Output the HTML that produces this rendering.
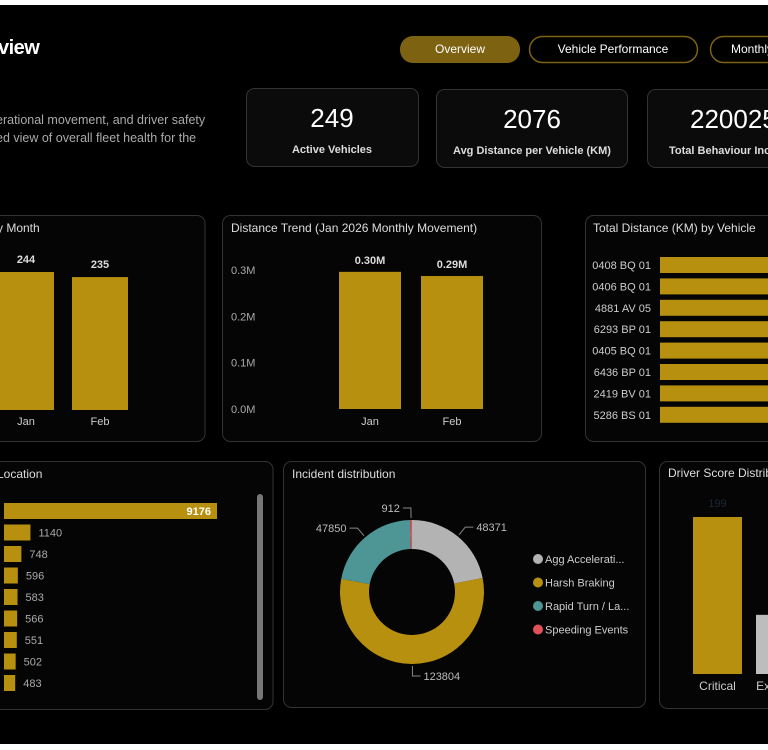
<!DOCTYPE html>
<html><head><meta charset="utf-8"><style>
html,body{margin:0;padding:0;background:#000;width:768px;height:750px;overflow:hidden;font-family:"Liberation Sans","DejaVu Sans",sans-serif;}
svg text{font-family:"Liberation Sans","DejaVu Sans",sans-serif;}
</style></head><body>
<svg id="s" width="768" height="750" viewBox="0 0 768 750">
<rect x="0" y="0" width="768" height="750" fill="#000"/>
<rect x="0" y="0" width="768" height="5" fill="#fff"/>
<rect x="0" y="744" width="768" height="6" fill="#fff"/>
<text x="-2" y="54" fill="#fff" font-size="20" font-weight="bold" letter-spacing="-0.5">view</text>
<g><rect x="400" y="36" width="120" height="27" rx="13" fill="#7d6212"/><text x="460" y="53" fill="#fff" font-size="12" text-anchor="middle">Overview</text></g>
<g><rect x="529.5" y="36.5" width="168" height="26" rx="13" fill="#000" stroke="#7d6212" stroke-width="1.5"/><text x="613" y="53" fill="#fff" font-size="12" text-anchor="middle">Vehicle Performance</text></g>
<g><rect x="710.5" y="36.5" width="100" height="26" rx="13" fill="#000" stroke="#7d6212" stroke-width="1.5"/><text x="731" y="53" fill="#fff" font-size="12">Monthly</text></g>
<text x="-4" y="124" fill="#aaa" font-size="12.5">erational movement, and driver safety</text>
<text x="-4" y="142" fill="#aaa" font-size="12.5">ed view of overall fleet health for the</text>

<g><rect x="246.5" y="88.5" width="172" height="78" rx="8" fill="#0b0b0b" stroke="#333"/><text x="332" y="127" fill="#fff" font-size="26" text-anchor="middle">249</text><text x="332" y="153" fill="#ddd" font-size="11" font-weight="bold" text-anchor="middle">Active Vehicles</text></g>
<g><rect x="436.5" y="89.5" width="191" height="78" rx="8" fill="#0b0b0b" stroke="#333"/><text x="532" y="128" fill="#fff" font-size="26" text-anchor="middle">2076</text><text x="532" y="154" fill="#ddd" font-size="11" font-weight="bold" text-anchor="middle">Avg Distance per Vehicle (KM)</text></g>
<g><rect x="647.5" y="89.5" width="140" height="78" rx="8" fill="#0b0b0b" stroke="#333"/><text x="690" y="128" fill="#fff" font-size="26">220025</text><text x="669" y="154" fill="#ddd" font-size="11" font-weight="bold">Total Behaviour Incidents</text></g>

<g><rect x="-10" y="215.5" width="215" height="226" rx="8" fill="#050505" stroke="#333"/><text x="-3" y="232" fill="#ddd" font-size="12">y Month</text></g>
<g id="g1"></g>
<g><rect x="222.5" y="215.5" width="319" height="226" rx="8" fill="#050505" stroke="#333"/><text x="231" y="232" fill="#ddd" font-size="12">Distance Trend (Jan 2026 Monthly Movement)</text></g>
<g id="g2"></g>
<g><rect x="585.5" y="215.5" width="200" height="226" rx="8" fill="#050505" stroke="#333"/><text x="593" y="232" fill="#ddd" font-size="12">Total Distance (KM) by Vehicle</text></g>
<g id="g3"></g>

<g><rect x="-10" y="461.5" width="283" height="248" rx="8" fill="#050505" stroke="#333"/><text x="-3" y="478" fill="#ddd" font-size="12">Location</text>
<rect x="257" y="494" width="6" height="206" rx="3" fill="#777"/></g>
<g id="g4"></g>
<g><rect x="283.5" y="461.5" width="362" height="246" rx="8" fill="#050505" stroke="#333"/><text x="292" y="478" fill="#ddd" font-size="12">Incident distribution</text></g>
<g id="g5"></g>
<g><rect x="659.5" y="461.5" width="130" height="247" rx="8" fill="#050505" stroke="#333"/><text x="668" y="477" fill="#ddd" font-size="12">Driver Score Distribution</text></g>
<g id="g6"></g>
</svg>
<script>
const NS="http://www.w3.org/2000/svg";
const gold="#b8900f";
// Chart 1: vehicles by month
const monthCats=["Jan","Feb"];
const monthVals=[244,235];
// Chart 2: distance trend
const trendCats=["Jan","Feb"];
const trendVals=[0.296,0.287];
const trendLabels=["0.30M","0.29M"];
const trendTicks=[0,0.1,0.2,0.3];
const trendTickLabels=["0.0M","0.1M","0.2M","0.3M"];
// Chart 3: distance by vehicle
const vehCats=["0408 BQ 01","0406 BQ 01","4881 AV 05","6293 BP 01","0405 BQ 01","6436 BP 01","2419 BV 01","5286 BS 01"];
const vehVals=[5200,5150,5100,5080,5050,5020,5000,4980];
// Chart 4: incidents by location
const locVals=[9176,1140,748,596,583,566,551,502,483];
// Chart 5: incident distribution
const incCats=["Agg Accelerati...","Harsh Braking","Rapid Turn / La...","Speeding Events"];
const incVals=[48371,123804,47850,912];
const incColors=["#b3b3b3","#b8900f","#4e9695","#e0525a"];
// Chart 6: driver score
const scoreCats=["Critical","Excellent"];
const scoreVals=[199,75];

function el(tag,attrs,parent,txt){const e=document.createElementNS(NS,tag);for(const k in attrs)e.setAttribute(k,attrs[k]);if(txt!==undefined)e.textContent=txt;parent.appendChild(e);return e;}

// chart1
(function(){const g=document.getElementById('g1');const base=410,sc=138/244;
monthVals.forEach((v,i)=>{const x=-2+i*74;const h=v*sc;
const r=el('rect',{x:x,y:base-h,width:56,height:h,fill:gold},g);


const t=el('text',{x:x+28,y:base-h-9,fill:'#ddd','font-size':11,'font-weight':'bold','text-anchor':'middle'},g,String(v));


const c=el('text',{x:x+28,y:base+15,fill:'#ccc','font-size':11,'text-anchor':'middle'},g,monthCats[i]);

});})();

// chart2
(function(){const g=document.getElementById('g2');const base=409,sc=(409-270)/0.3;
trendTicks.forEach((t,i)=>{const tx=el('text',{x:231,y:base-t*sc+4,fill:'#aaa','font-size':11},g,trendTickLabels[i]);

});
trendVals.forEach((v,i)=>{const x=339+i*82;const h=v*sc;
const r=el('rect',{x:x,y:base-h,width:62,height:h,fill:gold},g);


const t=el('text',{x:x+31,y:base-h-8,fill:'#ddd','font-size':11,'font-weight':'bold','text-anchor':'middle'},g,trendLabels[i]);


const c=el('text',{x:x+31,y:base+16,fill:'#ccc','font-size':11,'text-anchor':'middle'},g,trendCats[i]);

});})();

// chart3
(function(){const g=document.getElementById('g3');const x0=660,sc=400/5200;
vehVals.forEach((v,i)=>{const y=257+i*21.4;
const r=el('rect',{x:x0,y:y,width:v*sc,height:16,fill:gold},g);


const t=el('text',{x:651,y:y+12,fill:'#ccc','font-size':11,'text-anchor':'end'},g,vehCats[i]);

});})();

// chart4
(function(){const g=document.getElementById('g4');const x0=4,sc=213/9176;
locVals.forEach((v,i)=>{const y=503+i*21.5;const w=v*sc;
const r=el('rect',{x:x0,y:y,width:w,height:16,fill:gold},g);


const inside=i===0;
const t=el('text',{x:inside?x0+w-6:x0+w+8,y:y+12,fill:inside?'#fff':'#aaa','font-size':11,'font-weight':inside?'bold':'normal','text-anchor':inside?'end':'start'},g,String(v));

});})();

// chart5
(function(){const g=document.getElementById('g5');const cx=412,cy=592,R=72,r0=43;const tot=incVals.reduce((a,b)=>a+b,0);
let a=0;const pt=(ang,rad)=>[cx+rad*Math.sin(ang),cy-rad*Math.cos(ang)];
incVals.forEach((v,i)=>{const a1=a+v/tot*2*Math.PI;const big=(a1-a)>Math.PI?1:0;
const p1=pt(a,R),p2=pt(a1,R),p3=pt(a1,r0),p4=pt(a,r0);
const p=el('path',{d:`M${p1} A${R},${R} 0 ${big} 1 ${p2} L${p3} A${r0},${r0} 0 ${big} 0 ${p4}Z`,fill:incColors[i]},g);


const mid=(a+a1)/2;const q=pt(mid,R+2),q2=pt(mid,R+12);const right=Math.sin(mid)>=0;
const lx=q2[0]+(right?8:-8);
el('polyline',{points:`${q} ${q2} ${lx},${q2[1]}`,fill:'none',stroke:'#888','stroke-width':1},g);
const t=el('text',{x:lx+(right?3:-3),y:q2[1]+4,fill:'#bbb','font-size':11,'text-anchor':right?'start':'end'},g,String(v));


a=a1;});
incCats.forEach((c,i)=>{const y=559+i*23.5;
const d=el('circle',{cx:538,cy:y,r:5,fill:incColors[i]},g);


const t=el('text',{x:545,y:y+4,fill:'#ccc','font-size':11},g,c);

});})();

// chart6
(function(){const g=document.getElementById('g6');const base=674,sc=157/199;const cols=[gold,'#bdbdbd'];
scoreVals.forEach((v,i)=>{const x=693+i*63;const h=v*sc;
const r=el('rect',{x:x,y:base-h,width:49,height:h,fill:cols[i]},g);


if(i===0){const t=el('text',{x:x+24.5,y:base-h-10,fill:'#1c2738','font-size':11,'text-anchor':'middle'},g,String(v));

}
const c=el('text',{x:x+24.5,y:base+16,fill:'#ccc','font-size':12,'text-anchor':'middle'},g,scoreCats[i]);

});})();
</script>
</body></html>
